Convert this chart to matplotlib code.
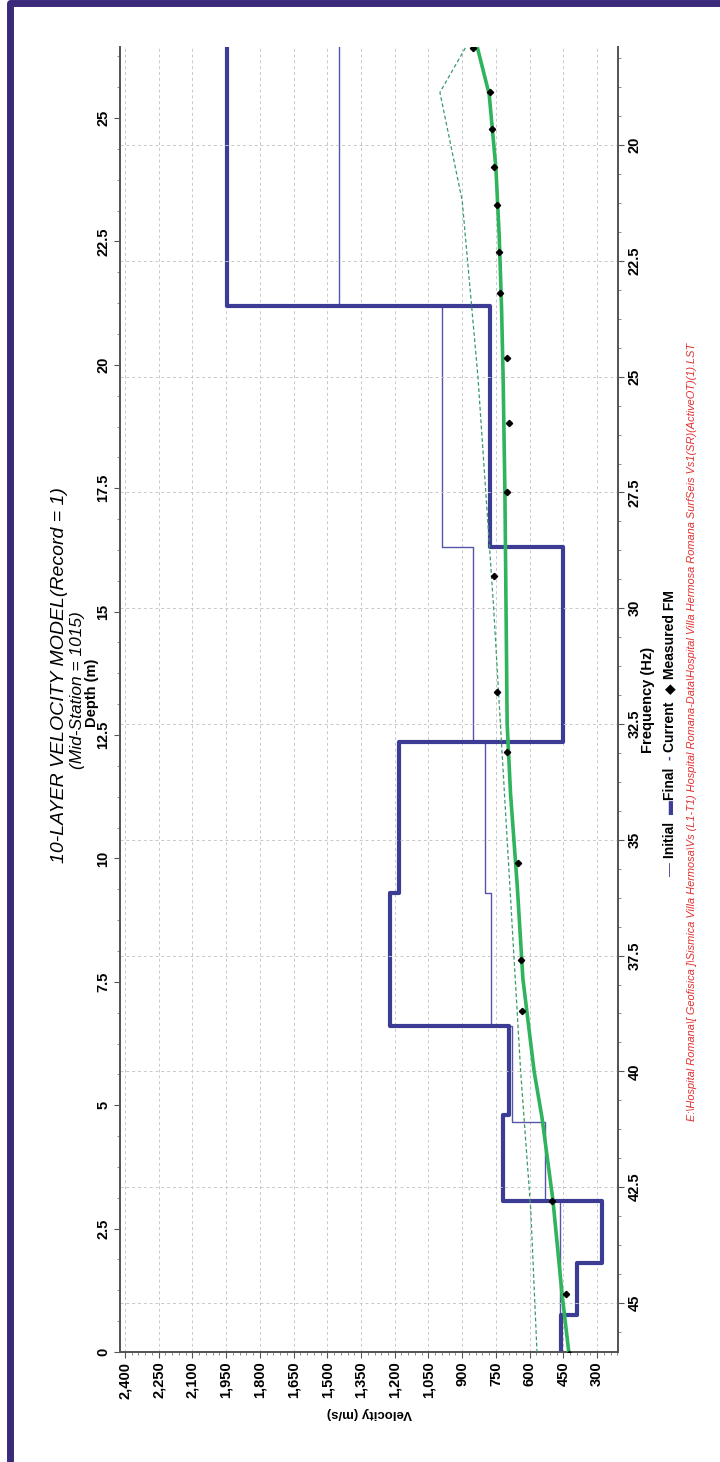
import numpy as np
import matplotlib.pyplot as plt
from matplotlib.ticker import MultipleLocator, FuncFormatter

plt.rcParams['font.family'] = ['Liberation Sans', 'DejaVu Sans']

# layered velocity models: depth to top of each layer (m) and velocity (m/s)
final_top = [0, 0.75, 1.8, 3.06, 4.8, 6.6, 9.3, 12.35, 16.3, 21.2]
final_vel = [460, 388, 280, 720, 690, 1220, 1180, 451, 775, 1945]
init_top = [0, 3.06, 4.67, 6.6, 9.3, 12.35, 16.3, 21.2]
init_vel = [465, 531, 680, 770, 800, 850, 990, 1450]
model_bottom = 27.0

# dispersion curves: frequency (Hz) and phase velocity (m/s)
curve_freq = [17.9, 18.9, 20.5, 22, 23.5, 25, 27.5, 30, 32.5, 34, 36, 38, 40, 41, 42.8, 44.8, 46.1]
curve_vel = [832, 780, 750, 735, 725, 718, 710, 705, 700, 685, 655, 630, 580, 545, 496, 456, 425]
init_freq = [17.9, 18.86, 21.2, 25, 30, 35, 40, 43, 46.1]
init_curve_vel = [886, 999, 900, 830, 760, 700, 640, 595, 567]
meas_freq = [17.9, 18.86, 19.64, 20.47, 21.3, 22.3, 23.2, 24.6, 26.0, 27.5, 29.3, 31.8,
             33.1, 35.5, 37.6, 38.7, 42.8, 44.8, 46.1]
meas_vel = [850, 777, 767, 757, 745, 735, 730, 700, 690, 700, 760, 745,
            700, 650, 640, 634, 500, 438, 425]


def step_line(tops, vels, bottom):
    bounds = list(tops) + [bottom]
    y = np.repeat(bounds, 2)[1:-1]
    x = np.repeat(vels, 2)
    return x, y


def main():
    fig = plt.figure(figsize=(7.2, 14.62), dpi=100)
    ax = fig.add_axes([120 / 720, 110 / 1462, 498 / 720, 1305 / 1462])
    ax2 = ax.twinx()

    # velocity axis (horizontal, reversed)
    ax.set_xlim(2422, 207)
    ax.set_xticks(np.arange(300, 2401, 150))
    ax.xaxis.set_minor_locator(MultipleLocator(30))
    ax.xaxis.set_major_formatter(FuncFormatter(lambda v, _: f"{int(v):,}"))
    ax.set_xlabel("Velocity (m/s)", rotation=180, fontsize=9.5, fontweight='bold', labelpad=6)

    # depth axis (left)
    ax.set_ylim(0, 26.44)
    ax.yaxis.set_major_locator(MultipleLocator(2.5))
    ax.yaxis.set_minor_locator(MultipleLocator(0.625))
    ax.yaxis.set_major_formatter(FuncFormatter(lambda v, _: f"{v:g}"))
    ax.set_ylabel("Depth (m)", fontsize=10.5, fontweight='bold', va='center')
    ax.yaxis.set_label_coords(-0.056, 0.505)

    # frequency axis (right, reversed)
    ax2.set_ylim(46.06, 17.88)
    ax2.yaxis.set_major_locator(MultipleLocator(2.5))
    ax2.yaxis.set_minor_locator(MultipleLocator(0.625))
    ax2.yaxis.set_major_formatter(FuncFormatter(lambda v, _: f"{v:g}"))
    ax2.set_ylabel("Frequency (Hz)", fontsize=10.5, fontweight='bold', rotation=90, va='center')
    ax2.yaxis.set_label_coords(1.06, 0.5)

    for a in (ax, ax2):
        a.tick_params(axis='both', which='major', labelsize=10.5, length=4, color='#555555')
        a.tick_params(axis='both', which='minor', length=2, color='#777777')
        a.spines['top'].set_visible(False)
        for s in ('left', 'right', 'bottom'):
            a.spines[s].set_color('#555555')
            a.spines[s].set_linewidth(1.3)
    ax.tick_params(axis='x', labelrotation=90, pad=3)
    ax.tick_params(axis='y', labelrotation=90, pad=3)
    ax2.tick_params(axis='y', labelrotation=90, pad=3)
    for lab in ax.get_xticklabels() + ax.get_yticklabels() + ax2.get_yticklabels():
        lab.set_fontweight('bold')
    for lab in ax.get_yticklabels() + ax2.get_yticklabels():
        lab.set_va('center')

    grid_kw = dict(color='#c8c8c8', linestyle=(0, (3, 3)), linewidth=0.7)
    ax.xaxis.grid(True, **grid_kw)
    ax2.yaxis.grid(True, **grid_kw)

    # velocity models
    x, y = step_line(init_top, init_vel, model_bottom)
    ax.plot(x, y, color='#5656a8', linewidth=1.0, zorder=3)
    x, y = step_line(final_top, final_vel, model_bottom)
    ax.plot(x, y, color='#3c3c95', linewidth=3.0, zorder=4)

    # dispersion curves
    ax2.plot(init_curve_vel, init_freq, color='#3a9a6a', linewidth=0.9,
             linestyle=(0, (3, 2)), zorder=3)
    ax2.plot(curve_vel, curve_freq, color='#2fb35c', linewidth=2.6, zorder=4)
    ax2.plot(meas_vel, meas_freq, linestyle='none', marker='D', markersize=3.2,
             color='black', zorder=5)

    # titles
    fig.text(60 / 720, 1 - 675 / 1462, "10-LAYER VELOCITY MODEL(Record = 1)", rotation=90,
             ha='center', va='center', fontsize=14, style='italic')
    fig.text(77.5 / 720, 1 - 690 / 1462, "(Mid-Station = 1015)", rotation=90,
             ha='center', va='center', fontsize=12.5, style='italic')

    # legend written as rotated text pieces
    fig.canvas.draw()
    renderer = fig.canvas.get_renderer()
    pieces = [("\u2014 ", '#5656a8', 'normal'), ("Initial  ", 'black', 'bold'),
              ("\u25ac", '#3c3c95', 'bold'), ("Final  ", 'black', 'bold'),
              ("- ", '#3c3c95', 'bold'), ("Current  ", 'black', 'bold'),
              ("\u25c6 ", 'black', 'normal'), ("Measured FM", 'black', 'bold')]
    total = 0
    texts = []
    for s, c, w in pieces:
        t = fig.text(670 / 720, 0, s, rotation=90, ha='center', va='bottom',
                     fontsize=10, color=c, fontweight=w)
        h = t.get_window_extent(renderer).height
        texts.append((t, h))
        total += h
    ypix = (1462 - 733) - total / 2
    for t, h in texts:
        t.set_y(ypix / 1462)
        ypix += h

    fig.text(692 / 720, 1 - 732 / 1462,
             "E:\\Hospital Romana\\[ Geofisica ]\\Sismica Villa Hermosa\\Vs (L1-T1) Hospital "
             "Romana-Data\\Hospital Villa Hermosa Romana SurfSeis Vs1(SR)(ActiveOT)(1).LST",
             rotation=90, ha='center', va='center', fontsize=7.9, style='italic',
             color='#e03030')

    # purple frame
    fig.add_artist(plt.Line2D([10 / 720, 10 / 720, 1.0], [0, 1 - 3 / 1462, 1 - 3 / 1462],
                              transform=fig.transFigure, color='#3b2a7a', linewidth=5))

    fig.savefig('out.png', dpi=100)


if __name__ == "__main__":
    main()
